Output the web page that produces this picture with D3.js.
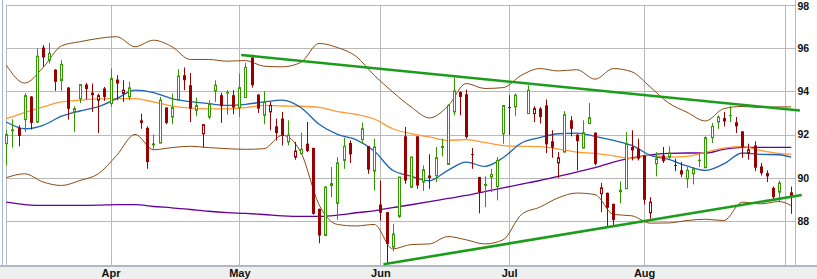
<!DOCTYPE html>
<html>
<head>
<meta charset="utf-8">
<script src="https://cdn.jsdelivr.net/npm/d3@7"></script>
<style>
  body { margin: 0; background: #fff; }
  svg { display: block; font-family: "Liberation Sans", Arial, sans-serif; }
</style>
</head>
<body>
<svg id="chart" width="817" height="279"></svg>
<script>
// calendar: every weekday gets a slot, market holidays stay empty
var firstDay = "2007-03-08";
var lastDay = "2007-09-04";
var holidays = ["2007-04-06", "2007-05-28", "2007-07-04", "2007-09-03"];
var monthLabels = ["Apr", "May", "Jun", "Jul", "Aug", ""];

// daily prices, one entry per trading day
var opens = [91.58,92.18,92.31,92.69,93.76,92.58,96.02,95.44,95.00,94.50,94.17,93.05,93.65,94.31,93.94,93.59,94.13,93.43,94.54,93.90,93.74,
  92.66,92.31,91.53,91.61,93.25,92.81,93.59,94.74,94.28,93.12,92.04,92.81,94.02,93.82,93.97,93.82,93.25,93.71,95.56,93.85,92.89,93.05,
  92.38,92.74,91.66,90.96,91.12,91.58,91.38,88.57,87.34,89.76,88.83,90.81,91.61,
  91.77,91.47,90.31,88.77,88.42,86.80,88.22,91.92,89.57,91.92,89.81,90.11,90.11,91.40,90.62,93.05,93.97,93.86,91.10,90.04,89.66,90.04,89.60,92.04,93.27,93.28,
  92.97,92.97,93.20,93.35,91.69,90.69,91.19,92.66,92.00,91.38,92.51,92.09,89.27,89.31,88.80,89.45,89.50,91.43,91.35,91.04,88.39,90.65,91.04,90.96,90.60,
  90.35,89.96,90.19,90.84,90.47,91.86,92.58,92.63,92.90,92.57,92.15,91.15,91.50,90.53,90.22,89.54,89.34,
  89.19];
var highs = [92.20,92.71,92.43,93.91,93.78,95.98,96.13,96.24,95.02,95.44,94.20,93.31,94.33,94.39,94.36,93.89,94.20,95.05,94.74,94.51,94.44,
  92.97,92.38,92.00,93.74,93.26,93.90,95.02,95.10,94.85,93.71,92.46,93.59,94.51,93.93,94.05,94.05,94.82,95.31,95.67,93.86,94.00,93.51,
  92.74,93.05,92.66,91.66,92.09,92.58,91.40,88.58,89.60,90.50,90.96,91.86,91.73,
  92.55,91.48,91.81,89.88,88.43,87.88,90.04,92.35,90.98,91.93,90.58,91.09,91.43,91.81,93.40,94.64,94.00,94.08,91.38,90.05,90.07,90.42,90.96,93.35,93.82,93.90,
  94.28,93.31,93.28,93.62,92.20,91.19,93.08,92.85,92.01,92.66,93.46,92.10,89.77,89.32,88.81,89.84,92.12,92.20,91.81,91.05,89.11,91.19,91.43,91.46,90.89,
  90.73,90.50,90.50,91.19,91.92,92.54,92.89,93.05,93.31,92.81,92.16,91.58,91.69,90.69,90.35,89.60,89.88,
  89.60];
var lows = [90.58,91.40,91.46,92.12,92.23,92.55,95.13,95.28,94.02,94.02,92.69,92.12,93.46,93.63,93.05,92.07,93.56,93.28,93.59,93.51,93.59,
  92.27,90.42,91.32,91.60,92.48,92.48,93.58,94.05,92.58,92.85,91.40,92.71,93.51,92.54,92.92,92.94,92.81,93.70,94.17,93.00,92.48,92.20,
  91.73,91.50,91.50,90.84,91.09,91.19,88.30,86.98,87.33,89.11,88.06,90.42,90.69,
  91.61,90.19,89.42,88.03,86.02,86.61,88.15,89.73,89.54,89.50,89.39,89.50,89.81,90.99,90.60,92.89,92.89,91.81,90.42,88.37,88.65,89.34,88.96,91.58,91.97,92.85,
  92.96,92.58,92.51,91.15,90.93,90.00,91.18,91.92,90.35,91.37,92.50,90.58,88.42,87.72,87.80,88.83,89.49,90.81,90.81,88.77,88.11,90.07,90.69,90.84,90.31,
  90.04,89.54,89.70,90.50,90.46,91.61,92.27,92.38,92.58,92.07,90.93,90.84,90.31,90.11,89.81,88.99,88.88,
  88.34];
var closes = [92.00,92.22,91.94,93.80,92.54,95.62,95.56,95.75,94.44,95.24,93.19,93.20,94.31,94.11,93.82,93.80,93.74,94.59,94.36,94.05,94.16,
  92.54,90.73,91.57,93.59,92.54,93.25,94.70,94.51,93.20,93.34,92.46,93.43,94.28,93.31,93.90,93.25,94.17,95.10,94.28,93.20,93.51,93.35,
  92.07,91.95,91.98,91.24,91.32,91.24,88.34,87.34,89.58,89.62,90.69,91.46,91.09,
  92.27,90.38,91.43,88.39,86.95,87.41,90.04,89.88,90.96,89.65,90.38,90.00,90.93,91.45,93.35,94.02,93.74,91.89,91.08,89.34,89.70,90.16,90.81,93.34,93.24,93.82,
  94.05,93.20,92.81,91.55,91.40,90.93,92.92,92.27,91.70,92.09,92.78,90.65,89.54,88.62,88.06,89.34,91.55,91.27,90.89,88.99,88.88,90.89,90.78,91.15,90.58,
  90.16,90.35,90.42,90.78,91.86,92.38,92.81,92.74,92.88,92.38,91.43,91.30,90.47,90.22,90.07,89.11,89.76,
  89.31];

// overlay studies, read every third weekday slot (plus the last one)
var bandUpper = [95.21,94.38,95.10,96.10,96.29,96.44,96.52,96.06,96.36,96.06,95.47,95.47,95.39,95.42,95.16,95.13,95.33,96.21,96.02,95.62,
  94.74,93.97,93.28,92.77,93.31,94.36,94.13,94.17,94.74,95.05,94.94,95.00,94.56,95.05,94.90,94.20,93.46,93.03,92.63,93.20,93.30,93.25,93.28,93.28];
var bandLower = [90.01,90.19,89.81,89.65,89.88,90.19,91.04,92.01,91.30,91.40,91.46,91.40,91.35,91.32,91.35,91.97,91.20,88.76,87.85,87.78,
  87.85,86.72,86.92,86.95,87.29,87.14,86.95,87.14,88.31,88.65,89.08,89.30,89.23,88.31,88.25,87.91,87.92,88.03,88.09,88.03,88.88,88.80,88.91,88.72];
var sma20 = [92.58,92.27,92.43,92.85,93.09,93.29,93.66,94.05,93.94,93.66,93.52,93.43,93.35,93.40,93.51,93.59,93.25,92.48,92.01,91.77,
  91.24,90.35,90.08,89.87,90.35,90.73,90.53,90.93,91.61,91.86,92.04,92.07,91.92,91.73,91.50,91.04,90.85,90.55,90.35,90.65,91.15,91.09,91.07,90.96];
var sma50 = [92.74,93.02,93.28,93.51,93.59,93.65,93.66,93.66,93.51,93.32,93.23,93.19,93.19,93.25,93.35,93.32,93.31,93.26,93.06,92.94,
  92.72,92.27,92.04,91.89,91.73,91.77,91.64,91.49,91.46,91.44,91.33,91.19,91.13,91.02,90.90,91.04,90.96,90.99,91.19,91.38,91.44,91.27,91.13,91.09];
var sma200 = [88.88,88.77,88.73,88.73,88.73,88.74,88.77,88.77,88.68,88.62,88.54,88.46,88.40,88.36,88.31,88.25,88.22,88.22,88.28,88.39,
  88.48,88.63,88.76,88.90,89.05,89.19,89.37,89.54,89.71,89.88,90.07,90.27,90.47,90.73,90.92,91.06,91.13,91.15,91.15,91.32,91.41,91.41,91.41,91.41];

// hand drawn trend lines as [weekday slot, price]
var trendTop = [[38.3, 95.68], [129.4, 93.11]];
var trendBottom = [[61.5, 86.01], [129.7, 89.21]];

var priceTicks = [88, 90, 92, 94, 96, 98];

// build the weekday slots
var parse = d3.timeParse("%Y-%m-%d");
var fmt = d3.timeFormat("%Y-%m-%d");
var weekdays = d3.timeDay.range(parse(firstDay), d3.timeDay.offset(parse(lastDay), 1))
  .filter(function(d) { return d.getDay() !== 0 && d.getDay() !== 6; });
var tradingSlots = [];
weekdays.forEach(function(d, i) {
  if (holidays.indexOf(fmt(d)) < 0) tradingSlots.push(i);
});
var monthSlots = [];
weekdays.forEach(function(d, i) {
  if (i > 0 && d.getMonth() !== weekdays[i - 1].getMonth()) monthSlots.push(i);
});
var sampleSlots = d3.range(0, weekdays.length - 2, 3).concat([weekdays.length - 1]);

var candles = tradingSlots.map(function(s, i) {
  return { slot: s, o: opens[i], h: highs[i], l: lows[i], c: closes[i], prev: i > 0 ? closes[i - 1] : opens[i] };
});

var svg = d3.select('#chart');

var x = d3.scaleLinear().domain([0, weekdays.length - 1]).range([6.3, 791.3]);
var y = d3.scaleLinear().domain([86, 98]).range([264.5, 4.7]);

var plotLeft = 6.5, plotRight = 795.5, plotBottom = 265;

// x axis strip
svg.append('rect')
  .attr('x', 0).attr('y', plotBottom).attr('width', 817).attr('height', 14)
  .attr('fill', '#eef0f0');
svg.append('rect')
  .attr('x', 0).attr('y', plotBottom).attr('width', 817).attr('height', 2)
  .attr('fill', '#b2b8c2');

// outer frame on the left
svg.append('line')
  .attr('x1', 2.5).attr('x2', 2.5).attr('y1', 0).attr('y2', plotBottom)
  .attr('stroke', '#9fbce0').attr('stroke-width', 1);

// grid
var grid = svg.append('g').attr('stroke', '#b9b9b9').attr('stroke-width', 1);
grid.selectAll('.hgrid')
  .data(priceTicks)
  .enter().append('line')
  .attr('x1', plotLeft).attr('x2', plotRight)
  .attr('y1', function(d) { return Math.round(y(d)) + 0.5; })
  .attr('y2', function(d) { return Math.round(y(d)) + 0.5; });
grid.selectAll('.vgrid')
  .data(monthSlots)
  .enter().append('line')
  .attr('x1', function(d) { return Math.round(x(d)) + 0.5; })
  .attr('x2', function(d) { return Math.round(x(d)) + 0.5; })
  .attr('y1', y(98)).attr('y2', plotBottom);
grid.append('line')
  .attr('x1', plotLeft).attr('x2', plotLeft).attr('y1', y(98)).attr('y2', plotBottom);
grid.append('line')
  .attr('x1', plotRight).attr('x2', plotRight).attr('y1', 0).attr('y2', plotBottom);

// price labels on the right (top one kept inside the picture)
svg.selectAll('.ylab')
  .data(priceTicks)
  .enter().append('text')
  .attr('x', 797.5)
  .attr('y', function(d) { return Math.max(y(d) + 3.7, 10); })
  .attr('font-size', '10.5px')
  .attr('font-weight', 'bold')
  .attr('fill', '#111')
  .text(function(d) { return d; });

// month labels
svg.selectAll('.xlab')
  .data(monthSlots)
  .enter().append('text')
  .attr('x', function(d) { return x(d) + 0.5; })
  .attr('y', 277.3)
  .attr('text-anchor', 'middle')
  .attr('font-size', '11px')
  .attr('font-weight', 'bold')
  .attr('fill', '#111')
  .text(function(d, i) { return monthLabels[i]; });

// overlay lines
function study(values, color, width) {
  var line = d3.line()
    .x(function(d, i) { return x(sampleSlots[i]); })
    .y(function(d) { return y(d); })
    .curve(d3.curveMonotoneX);
  svg.append('path')
    .datum(values)
    .attr('d', line)
    .attr('fill', 'none')
    .attr('stroke', color)
    .attr('stroke-width', width);
}
study(sma200, '#660099', 1.3);
study(sma50, '#ff9933', 1.3);
study(sma20, '#1c63b5', 1.3);
study(bandUpper, '#8b4a14', 1);
study(bandLower, '#8b4a14', 1);

// candles
var green = '#339900', red = '#990000';
var candle = svg.selectAll('.candle')
  .data(candles)
  .enter().append('g')
  .attr('class', 'candle');

candle.append('line')
  .attr('x1', function(d) { return Math.round(x(d.slot)) + 0.5; })
  .attr('x2', function(d) { return Math.round(x(d.slot)) + 0.5; })
  .attr('y1', function(d) { return y(d.h); })
  .attr('y2', function(d) { return y(d.l); })
  .attr('stroke', function(d) { return d.c >= d.prev ? green : red; })
  .attr('stroke-width', 1);

candle.append('rect')
  .attr('x', function(d) {
    var cx = Math.round(x(d.slot));
    return d.c > d.o ? cx - 0.5 : cx - 1;
  })
  .attr('width', function(d) { return d.c > d.o ? 2 : 3; })
  .attr('y', function(d) { return y(Math.max(d.o, d.c)); })
  .attr('height', function(d) { return Math.max(1, Math.abs(y(d.o) - y(d.c))); })
  .attr('fill', function(d) {
    if (d.c > d.o) return '#fff';
    return d.c >= d.prev ? green : red;
  })
  .attr('stroke', function(d) {
    if (d.c > d.o) return d.c >= d.prev ? green : red;
    return 'none';
  })
  .attr('stroke-width', 1);

// trend lines
[trendTop, trendBottom].forEach(function(t) {
  svg.append('line')
    .attr('x1', x(t[0][0])).attr('y1', y(t[0][1]))
    .attr('x2', x(t[1][0])).attr('y2', y(t[1][1]))
    .attr('stroke', '#1b9c1b')
    .attr('stroke-width', 2.6)
    .attr('stroke-linecap', 'butt');
});
</script>
</body>
</html>
